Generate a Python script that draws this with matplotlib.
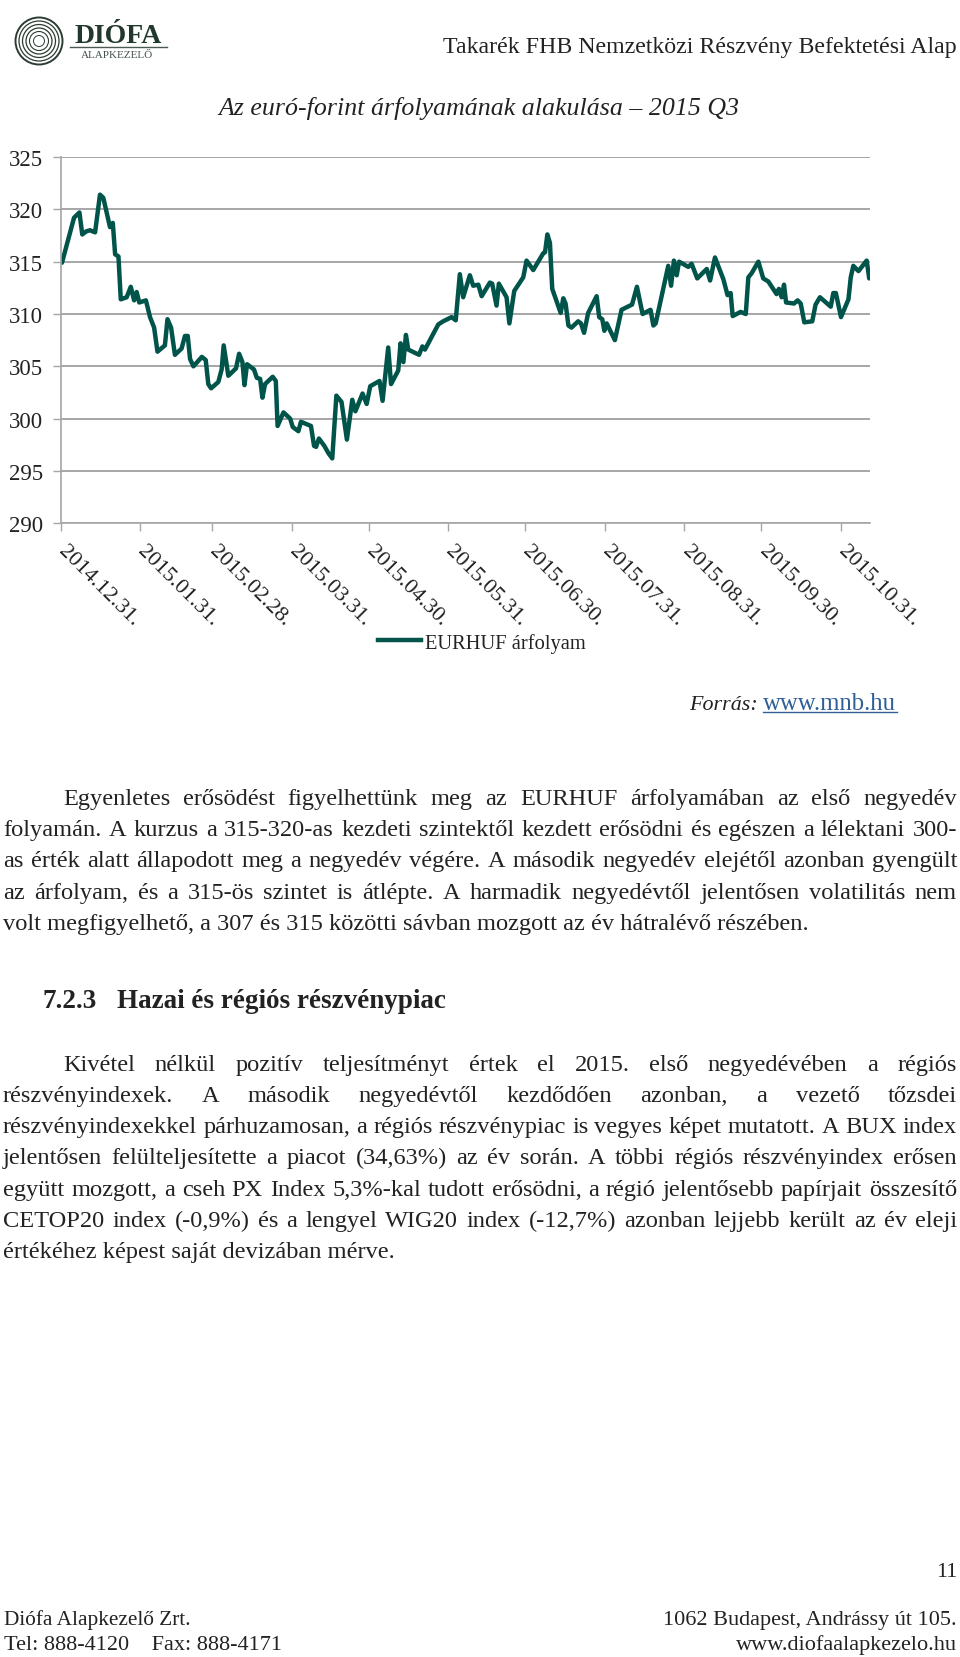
import matplotlib
matplotlib.use('Agg')

import matplotlib.pyplot as plt
from matplotlib.patches import Circle
from matplotlib.transforms import ScaledTranslation

W, H = 960, 1658
SERIF = ['Liberation Serif', 'DejaVu Serif']

# days since 2014.12.31
days = [0.5, 5.2, 7.3, 8.4, 10, 11.4, 13.4, 15.3, 16.6, 19.2, 20.3, 21.2, 22.5, 23.4, 25.7, 27.3, 28.6, 29.6,
        30.6, 33.2, 34.8, 36.4, 37.7, 40.6, 41.6, 43, 44.5, 47.1, 48.4, 49.5, 50.4, 51.7, 55, 56.5, 57.5, 58.6,
        61.4, 62.7, 63.5, 65.3, 68.3, 69.5, 70.8, 71.6, 72.6, 75.3, 76.4, 77.7, 78.6, 79.6, 82.6, 83.8, 84.5,
        86.8, 89.4, 90.4, 92.6, 93.6, 97.5, 98.7, 99.5, 100.6, 102.7, 104.3, 105.8, 107.4, 109.4, 111.5, 113.6,
        114.8, 117.6, 119.2, 120.6, 124.2, 125.4, 127.6, 128.7, 131.5, 132.4, 133.5, 134.5, 135.4, 139.6, 140.9,
        141.9, 147.1, 149, 152.3, 153.9, 155.5, 156.8, 159.4, 160.7, 162.7, 164, 167.2, 168.1, 169.8, 170.7,
        173.7, 174.8, 176.7, 180.2, 181.5, 184.1, 188, 188.7, 189.6, 190.6, 191.5, 194.8, 195.8, 196.7, 197.8,
        199, 201.6, 202.7, 203.9, 205.5, 208.8, 209.8, 211, 211.8, 212.7, 215.9, 218.5, 222.6, 224.5, 226.7,
        229.8, 230.9, 231.8, 236.7, 237.8, 238.9, 240, 240.9, 244.5, 245.8, 248, 251.7, 253, 254.9, 258.2,
        259.8, 261, 261.8, 264.9, 266.9, 267.9, 269.2, 271.8, 273.7, 275.7, 278.9, 279.8, 280.9, 281.8, 282.6,
        285.7, 287.1, 288.3, 289.7, 292.8, 294.1, 295.8, 300, 301, 302, 304, 306.9, 307.8, 308.8, 310.8, 314, 315]
eurhuf = [314.9, 319.2, 319.7, 317.6, 317.9, 318, 317.8, 321.4, 321.1, 318.3, 318.7, 315.7, 315.5, 311.4, 311.6,
          312.6, 311.3, 312.1, 311.1, 311.3, 309.7, 308.7, 306.4, 307, 309.5, 308.7, 306.1, 306.7, 307.9, 307.9,
          305.7, 305, 305.9, 305.6, 303.3, 302.9, 303.5, 304.7, 307, 304.1, 304.8, 306.2, 305.4, 303.2, 305.2,
          304.7, 303.9, 303.8, 302, 303.3, 304, 303.6, 299.3, 300.6, 300, 299.2, 298.8, 299.7, 299.3, 297.4,
          297.3, 298.1, 297.4, 296.7, 296.2, 302.2, 301.6, 298, 301.8, 300.7, 302.4, 301.4, 303.1, 303.6, 301.7,
          306.8, 303.3, 304.6, 307.2, 305.4, 308, 306.6, 306.1, 306.9, 306.6, 309, 309.3, 309.7, 309.4, 313.8,
          311.6, 313.7, 312.7, 312.8, 311.7, 313, 312.9, 310.8, 312.9, 311.6, 309.1, 312.2, 313.5, 315.1, 314.2,
          315.8, 315.9, 317.6, 316.8, 312.4, 310.1, 311.5, 311, 308.9, 308.7, 309.3, 309.1, 308.2, 310.1, 311.7,
          309.7, 309.5, 308.4, 309.1, 307.5, 310.4, 310.9, 312.6, 310, 310.4, 308.9, 309.1, 314.6, 312.7, 315.1,
          313.7, 315, 314.5, 314.8, 313.4, 314.3, 313.2, 315.4, 313.3, 311.8, 312, 309.8, 310.2, 310, 313.5,
          313.9, 315, 313.4, 313.1, 311.9, 312.4, 311.6, 312.8, 311.1, 311, 311.3, 311, 309.2, 309.3, 310.9,
          311.6, 310.7, 312, 312, 309.7, 311.4, 313.5, 314.6, 314.1, 315.1, 313.4]
tick_days = [0, 31, 59, 90, 120, 151, 181, 212, 243, 273, 304]
tick_labels = ['2014.12.31.', '2015.01.31.', '2015.02.28.', '2015.03.31.', '2015.04.30.', '2015.05.31.',
               '2015.06.30.', '2015.07.31.', '2015.08.31.', '2015.09.30.', '2015.10.31.']
y_ticks = [290, 295, 300, 305, 310, 315, 320, 325]

para1 = [('Egyenletes erősödést figyelhettünk meg az EURHUF árfolyamában az első negyedév', 805, 63, True),
         ('folyamán. A kurzus a 315-320-as kezdeti szintektől kezdett erősödni és egészen a lélektani 300-', 836, 3, True),
         ('as érték alatt állapodott meg a negyedév végére. A második negyedév elejétől azonban gyengült', 867, 3, True),
         ('az árfolyam, és a 315-ös szintet is átlépte. A harmadik negyedévtől jelentősen volatilitás nem', 899, 3, True),
         ('volt megfigyelhető, a 307 és 315 közötti sávban mozgott az év hátralévő részében.', 930, 3, False)]
para2 = [('Kivétel nélkül pozitív teljesítményt értek el 2015. első negyedévében a régiós', 1071, 63, True),
         ('részvényindexek. A második negyedévtől kezdődően azonban, a vezető tőzsdei', 1102, 3, True),
         ('részvényindexekkel párhuzamosan, a régiós részvénypiac is vegyes képet mutatott. A BUX index', 1133, 3, True),
         ('jelentősen felülteljesítette a piacot (34,63%) az év során. A többi régiós részvényindex erősen', 1164, 3, True),
         ('együtt mozgott, a cseh PX Index 5,3%-kal tudott erősödni, a régió jelentősebb papírjait összesítő', 1196, 3, True),
         ('CETOP20 index (-0,9%) és a lengyel WIG20 index (-12,7%) azonban lejjebb került az év eleji', 1227, 3, True),
         ('értékéhez képest saját devizában mérve.', 1258, 3, False)]


def px_axes(fig, left, top, right, bottom):
    return fig.add_axes([left / W, 1 - bottom / H, (right - left) / W, (bottom - top) / H])


def draw_line(page, renderer, line, y, x0, justify, x1=957, size=17.6):
    if not justify:
        page.text(x0, y, line, fontsize=size, family=SERIF, color='#222222', va='baseline')
        return
    words = line.split(' ')
    items = [page.text(0, y, w, fontsize=size, family=SERIF, color='#222222', va='baseline') for w in words]
    widths = [t.get_window_extent(renderer).width for t in items]
    gap = (x1 - x0 - sum(widths)) / (len(words) - 1)
    x = x0
    for t, w in zip(items, widths):
        t.set_x(x)
        x += w + gap


fig = plt.figure(figsize=(W / 100, H / 100), dpi=100, facecolor='white')

# chart
ax = px_axes(fig, 60.7, 158, 870, 524.3)
ax.plot(days, eurhuf, color='#00544a', lw=3.2, solid_joinstyle='round', solid_capstyle='round')
ax.set_xlim(0, 315.3)
ax.set_ylim(290, 325)
ax.set_yticks(y_ticks)
ax.set_xticks(tick_days)
ax.set_xticklabels(tick_labels, rotation=-45, ha='left', va='top', rotation_mode='anchor',
                   fontsize=16, family=SERIF, color='#222222')
ax.set_yticklabels([str(v) for v in y_ticks], fontsize=16.4, family=SERIF, color='#222222')
ax.grid(axis='y', color='#a6a6a6', lw=1.4)
ax.set_axisbelow(True)
ax.tick_params(axis='y', length=6, width=1, color='#a6a6a6', pad=7)
ax.tick_params(axis='x', length=6, width=1, color='#a6a6a6', pad=7)
for side in ['top', 'right']:
    ax.spines[side].set_visible(False)
for side in ['left', 'bottom']:
    ax.spines[side].set_color('#a6a6a6')
    ax.spines[side].set_linewidth(1.2)
shift = ScaledTranslation(7 / 100, 0, fig.dpi_scale_trans)
for label in ax.get_xticklabels():
    label.set_transform(label.get_transform() + shift)

# everything else sits on a page layer measured in pixels
page = fig.add_axes([0, 0, 1, 1], zorder=-1)
page.set_xlim(0, W)
page.set_ylim(H, 0)
page.axis('off')

for r, lw in [(23.5, 1.4), (20, 0.9), (16.5, 0.9), (13, 0.9), (9.5, 0.8), (5.5, 0.7)]:
    page.add_patch(Circle((39, 42), r, fill=False, ec='#2b3d33', lw=lw))
page.text(118.5, 36, 'DIÓFA', fontsize=20, fontweight='bold', family=SERIF, color='#22382c', ha='center', va='center')
page.plot([70, 167], [47.5, 47.5], color='#4a5a50', lw=1)
page.text(117.5, 55.5, 'ALAPKEZELŐ', fontsize=8, family=SERIF, color='#44524a', ha='center', va='center')
page.text(957, 53, 'Takarék FHB Nemzetközi Részvény Befektetési Alap', fontsize=17.2, family=SERIF,
          color='#222222', ha='right', va='baseline')
page.text(479, 115, 'Az euró-forint árfolyamának alakulása – 2015 Q3', fontsize=18.6, style='italic', family=SERIF,
          color='#222222', ha='center', va='baseline')

page.plot([378, 421], [641, 641], color='#00544a', lw=3.2)
page.text(425, 649, 'EURHUF árfolyam', fontsize=14.8, family=SERIF, color='#222222', va='baseline')
page.text(689, 710, 'Forrás:', fontsize=15.8, style='italic', family=SERIF, color='#222222', va='baseline')
page.text(763, 710, 'www.mnb.hu', fontsize=17.8, family=SERIF, color='#2f5f96', va='baseline')
page.plot([763, 897], [713, 713], color='#2f5f96', lw=1)

renderer = fig.canvas.get_renderer()
for line, y, x0, justify in para1 + para2:
    draw_line(page, renderer, line, y, x0, justify)

page.text(42, 1008, '7.2.3', fontsize=19.5, fontweight='bold', family=SERIF, color='#222222', va='baseline')
page.text(117, 1008, 'Hazai és régiós részvénypiac', fontsize=19.5, fontweight='bold', family=SERIF,
          color='#222222', va='baseline')

page.text(957, 1577, '11', fontsize=16, family=SERIF, color='#222222', ha='right', va='baseline')
page.text(4, 1625, 'Diófa Alapkezelő Zrt.', fontsize=15.3, family=SERIF, color='#222222', va='baseline')
page.text(4, 1650, 'Tel: 888-4120    Fax: 888-4171', fontsize=16, family=SERIF, color='#222222', va='baseline')
page.text(957, 1625, '1062 Budapest, Andrássy út 105.', fontsize=16, family=SERIF, color='#222222', ha='right', va='baseline')
page.text(957, 1650, 'www.diofaalapkezelo.hu', fontsize=16, family=SERIF, color='#222222', ha='right', va='baseline')

fig.savefig('out.png', dpi=100)
plt.close(fig)
